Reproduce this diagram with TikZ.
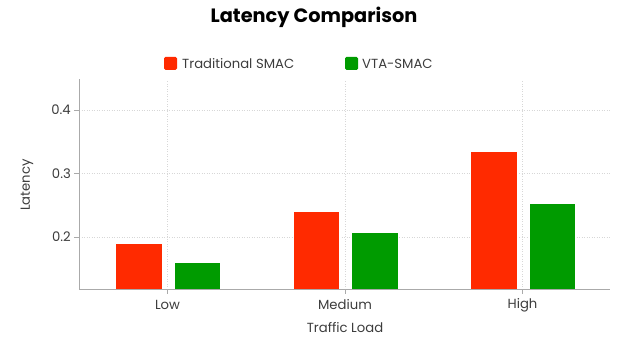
\documentclass[tikz,border=0pt]{standalone}
\usepackage{fontspec}
\setmainfont{Poppins}
\usepackage{xcolor}
\usepackage{tikz}
\usetikzlibrary{positioning,calc}

\definecolor{tradred}{RGB}{255,42,0}
\definecolor{vtagreen}{RGB}{0,155,0}
\definecolor{axisgray}{RGB}{170,170,170}
\definecolor{gridgray}{RGB}{215,215,215}
\definecolor{labelgray}{RGB}{60,60,60}

\begin{document}
\begin{tikzpicture}[
    x=1pt, y=1pt,
    every node/.style = {inner sep=0pt, text=labelgray, font=\fontsize{13.2}{15}\selectfont},
    grid/.style = {gridgray, dotted, line width=0.5pt},
    axis/.style = {axisgray, line width=0.9pt},
    bar/.style = {draw=white, line width=0.4pt}
  ]
  \useasboundingbox (0,0) rectangle (621,337);

  % titel und legende
  \node[text=black, font=\fontsize{19.3}{22}\selectfont\bfseries] (title) at (314,320) {Latency Comparison};
  \fill[tradred, rounded corners=1.5pt] (164,267) rectangle (177,280);
  \node[anchor=west] (legtrad) at (182,273.5) {Traditional SMAC};
  \fill[vtagreen, rounded corners=1.5pt] (345,267) rectangle (358,280);
  \node[anchor=west] (legvta) at (362,273.5) {VTA-SMAC};

  % daten (y = Latency)
  \begin{scope}[yshift=-27pt, y=635pt]
    % gitter
    \foreach \v in {0.2,0.3,0.4}
      \draw[grid] (79,\v) -- (610,\v);
    \foreach \cx in {167.5,345,522.5}
      \draw[grid] (\cx,0.1181) -- (\cx,0.4488);

    % balken
    \foreach \cx/\a/\b in {167.5/0.19/0.16, 345/0.24/0.207, 522.5/0.335/0.254} {
      \filldraw[bar, fill=tradred] (\cx-52,0.1181) rectangle (\cx-5.5,\a);
      \filldraw[bar, fill=vtagreen] (\cx+6.5,0.1181) rectangle (\cx+53,\b);
    }

    % achsen
    \draw[axis] (79,0.4488) -- (79,0.1181) -- (610,0.1181);
    \foreach \v/\name in {0.2/ytwo,0.3/ythree,0.4/yfour} {
      \draw[axis] (74,\v) -- (79,\v);
      \node[anchor=east] (\name) at (71,\v) {\v};
    }
    \foreach \cx/\lab/\name in {167.5/Low/xlow, 345/Medium/xmed, 522.5/High/xhigh} {
      \draw[axis] (\cx,0.1181) -- ++(0,-5pt);
      \node (\name) at (\cx,0.0931) {\lab};
    }
  \end{scope}

  \node[rotate=90] (ylabel) at (27,152) {Latency};
  \node (xlabel) at (345,9) {Traffic Load};
\end{tikzpicture}
\end{document}
